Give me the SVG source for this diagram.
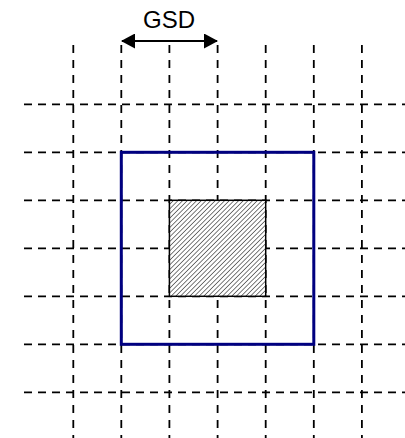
<svg xmlns="http://www.w3.org/2000/svg" width="405" height="438" viewBox="0 0 405 438">
<style>
.h{stroke:#000;stroke-width:1.8;stroke-dasharray:8,6;fill:none}
.v{stroke:#000;stroke-width:1.8;stroke-dasharray:8,7;fill:none}
.lbl{font-family:"Liberation Sans",Arial,sans-serif;font-size:24px;fill:#000}
</style>
<defs>
<pattern id="hatch" patternUnits="userSpaceOnUse" width="3.3" height="3.3" patternTransform="rotate(45)">
<rect width="3.3" height="3.3" fill="#fff"/>
<line x1="0" y1="0" x2="0" y2="3.3" stroke="#333" stroke-width="1.3"/>
</pattern>
<marker id="ah" viewBox="0 0 14 15" refX="13" refY="7.5" markerWidth="14" markerHeight="15" markerUnits="userSpaceOnUse" orient="auto-start-reverse">
<path d="M0,0 L14,7.5 L0,15 Z" fill="#000"/>
</marker>
</defs>
<g id="grid">
<path class="h" d="M24,104.3H405M24,152.3H405M24,200.3H405M24,248.3H405M24,296.3H405M24,344.3H405M24,392.3H405"/>
<path class="v" d="M73.3,45V438M121.3,45V438M169.4,45V438M217.6,45V438M265.7,45V438M313.8,45V438M361.9,45V438"/>
</g>
<g id="footprint">
<rect x="121.3" y="152.3" width="192.5" height="192" fill="none" stroke="#000080" stroke-width="3"/>
</g>
<g id="pixel">
<rect x="169.4" y="200.3" width="96.3" height="96" fill="url(#hatch)" stroke="#000" stroke-width="1.5"/>
</g>
<g id="connectors">
<line x1="122" y1="41" x2="217" y2="41" stroke="#000" stroke-width="1.8" marker-start="url(#ah)" marker-end="url(#ah)"/>
</g>
<g id="gsd-label">
<text class="lbl" x="169" y="28" text-anchor="middle">GSD</text>
</g>
</svg>
